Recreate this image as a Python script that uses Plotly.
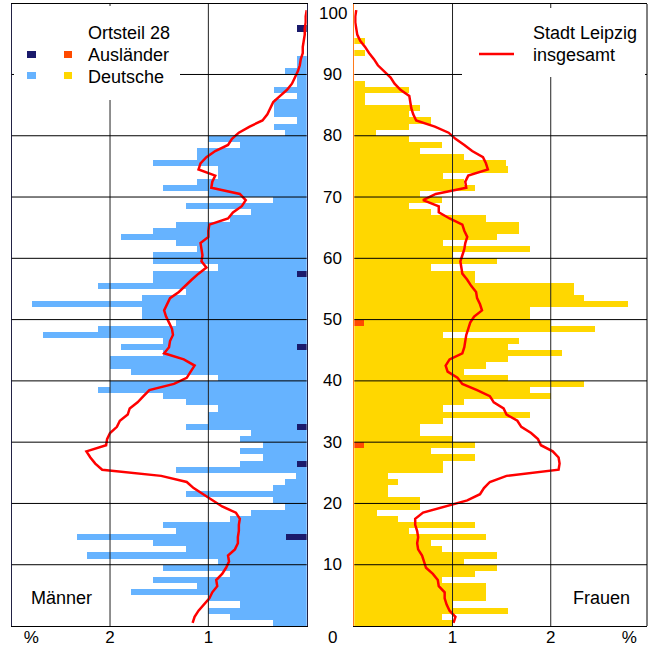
import plotly.graph_objects as go

# ---------------- data ----------------
ages = list(range(100))  # one-year age groups 0..99

# Männer, Deutsche (percent), Ortsteil 28
male_deutsche = [
    0.34, 0.78, 1.00, 0.68, 1.00, 1.79, 1.12, 1.56, 0.78, 1.46,   # 0-9
    0.90, 2.23, 1.23, 1.56, 2.13, 1.33, 1.46, 0.78, 0.57, 0.22,   # 10-19
    0.34, 1.23, 0.34, 0.22, 0.11, 1.33, 0.58, 0.44, 0.68, 0.44,   # 20-29
    0.68, 0.57, 1.13, 1.00, 1.00, 0.90, 1.23, 1.46, 2.12, 2.00,   # 30-39
    0.90, 1.79, 2.00, 2.00, 1.46, 1.79, 1.46, 2.68, 2.12, 1.33,   # 40-49
    1.67, 1.67, 2.79, 1.67, 1.23, 2.12, 1.56, 1.46, 0.90, 1.56,   # 50-59
    1.56, 1.12, 1.33, 1.89, 1.56, 1.33, 0.78, 0.57, 1.23, 0.34,   # 60-69
    1.00, 1.46, 1.12, 0.90, 0.90, 1.56, 1.12, 1.12, 0.68, 1.00,   # 70-79
    0.22, 0.33, 0.10, 0.33, 0.33, 0.33, 0.10, 0.33, 0.10, 0.10,   # 80-89
    0.22, 0.10, 0.10, 0.00, 0.00, 0.00, 0.00, 0.00, 0.00, 0.00,   # 90-99
]
# Männer, Ausländer
male_auslaender_ages = [14, 26, 32, 45, 57, 97]
male_auslaender_vals = [0.21, 0.10, 0.10, 0.10, 0.10, 0.10]

# Frauen, Deutsche
female_deutsche = [
    1.00, 0.89, 1.56, 1.00, 1.34, 1.34, 1.34, 0.89, 1.23, 1.45,   # 0-9
    1.12, 1.45, 0.89, 0.78, 1.34, 0.56, 1.23, 0.45, 0.23, 0.67,   # 10-19
    0.67, 0.34, 0.34, 0.45, 0.34, 0.90, 0.90, 1.23, 0.78, 1.13,   # 20-29
    1.00, 0.67, 0.67, 0.90, 1.79, 0.90, 1.12, 2.00, 1.79, 2.34,   # 30-39
    1.56, 1.12, 1.34, 1.56, 2.11, 1.56, 1.68, 0.90, 2.45, 1.90,   # 40-49
    1.79, 1.79, 2.79, 2.34, 2.24, 2.24, 1.23, 1.23, 0.78, 1.45,   # 50-59
    1.00, 1.79, 0.90, 1.45, 1.68, 1.68, 1.34, 0.78, 0.56, 0.89,   # 60-69
    0.67, 1.23, 1.12, 0.90, 1.56, 1.54, 1.12, 0.67, 0.89, 0.56,   # 70-79
    0.22, 0.56, 0.78, 0.56, 0.67, 0.11, 0.11, 0.56, 0.11, 0.00,   # 80-89
    0.00, 0.00, 0.00, 0.11, 0.00, 0.11, 0.00, 0.00, 0.00, 0.00,   # 90-99
]
# Frauen, Ausländer
female_auslaender_ages = [29, 49]
female_auslaender_vals = [0.10, 0.10]

# Stadt Leipzig insgesamt (ages 0..100)
line_ages = list(range(101))
male_leipzig = [
    1.16, 1.14, 1.10, 1.04, 0.99, 0.96, 0.91, 0.92, 0.86, 0.82,
    0.79, 0.80, 0.73, 0.70, 0.70, 0.69, 0.69, 0.68, 0.72, 0.86,
    0.96, 1.06, 1.15, 1.22, 1.48, 2.08, 2.15, 2.20, 2.24, 2.04,
    2.03, 2.00, 1.93, 1.90, 1.82, 1.80, 1.72, 1.66, 1.60, 1.35,
    1.22, 1.18, 1.14, 1.25, 1.45, 1.40, 1.39, 1.36, 1.37, 1.40,
    1.43, 1.45, 1.42, 1.39, 1.30, 1.24, 1.17, 1.10, 1.02, 1.07,
    1.06, 1.07, 1.08, 1.00, 1.00, 0.99, 0.80, 0.75, 0.66, 0.62,
    0.68, 0.97, 0.96, 0.93, 1.10, 1.08, 1.02, 0.93, 0.80, 0.76,
    0.69, 0.58, 0.45, 0.40, 0.37, 0.34, 0.27, 0.20, 0.15, 0.12,
    0.09, 0.07, 0.06, 0.04, 0.04, 0.03, 0.02, 0.02, 0.01, 0.01,
    0.00,
]
female_leipzig = [
    1.01, 1.03, 0.97, 0.94, 0.92, 0.92, 0.86, 0.85, 0.80, 0.73,
    0.71, 0.69, 0.65, 0.64, 0.65, 0.64, 0.62, 0.62, 0.70, 0.92,
    1.15, 1.28, 1.32, 1.38, 1.55, 2.08, 2.09, 2.08, 2.02, 1.90,
    1.87, 1.80, 1.70, 1.66, 1.55, 1.52, 1.42, 1.38, 1.25, 1.10,
    1.05, 0.95, 0.93, 0.97, 1.10, 1.12, 1.13, 1.14, 1.16, 1.18,
    1.22, 1.30, 1.28, 1.25, 1.24, 1.19, 1.15, 1.10, 1.09, 1.08,
    1.10, 1.12, 1.13, 1.15, 1.12, 1.10, 0.97, 0.86, 0.86, 0.70,
    0.83, 1.14, 1.13, 1.16, 1.36, 1.34, 1.31, 1.20, 1.12, 1.03,
    0.96, 0.82, 0.63, 0.60, 0.58, 0.57, 0.56, 0.47, 0.41, 0.37,
    0.30, 0.24, 0.20, 0.15, 0.11, 0.06, 0.03, 0.02, 0.01, 0.01,
    0.02,
]

age_ticks = [10, 20, 30, 40, 50, 60, 70, 80, 90, 100]
pct_tickvals = [1, 2, 2.8]
pct_ticktext = ["1", "2", "%"]

# ---------------- colours / styles ----------------
C_M_D = "#66B3FF"
C_M_A = "#1A1A6B"
C_F_D = "#FFD700"
C_F_A = "#FF4A00"
C_LINE = "#FF0000"
FONT = "Liberation Sans, Arial, sans-serif"

def expand(idx, vals):
    out = [0.0] * len(ages)
    for a, v in zip(idx, vals):
        out[a] = v
    return out

male_ausl = expand(male_auslaender_ages, male_auslaender_vals)
female_ausl = expand(female_auslaender_ages, female_auslaender_vals)
bar_y = [a + 0.5 for a in ages]
line_y = [a + 0.5 for a in line_ages]

fig = go.Figure()
# Left panel: Männer (Ausländer at base, Deutsche stacked outward)
fig.add_trace(go.Bar(x=male_ausl, y=bar_y, orientation="h", width=1,
                     marker=dict(color=C_M_A, line=dict(width=0)),
                     xaxis="x", yaxis="y", showlegend=False))
fig.add_trace(go.Bar(x=male_deutsche, y=bar_y, orientation="h", width=1,
                     marker=dict(color=C_M_D, line=dict(width=0)),
                     xaxis="x", yaxis="y", showlegend=False))
# Right panel: Frauen
fig.add_trace(go.Bar(x=female_ausl, y=bar_y, orientation="h", width=1,
                     marker=dict(color=C_F_A, line=dict(width=0)),
                     xaxis="x2", yaxis="y2", showlegend=False))
fig.add_trace(go.Bar(x=female_deutsche, y=bar_y, orientation="h", width=1,
                     marker=dict(color=C_F_D, line=dict(width=0)),
                     xaxis="x2", yaxis="y2", showlegend=False))
# Stadt Leipzig lines
fig.add_trace(go.Scatter(x=male_leipzig, y=line_y, mode="lines",
                         line=dict(color=C_LINE, width=2.5),
                         xaxis="x", yaxis="y", showlegend=False))
fig.add_trace(go.Scatter(x=female_leipzig, y=line_y, mode="lines",
                         line=dict(color=C_LINE, width=2.5),
                         xaxis="x2", yaxis="y2", showlegend=False))

W, H = 654, 650
MT, MB = 4, 24
PH = H - MT - MB

def px(x):
    return x / W

def py(y):
    return (H - MB - y) / PH

Y_RANGE = [0, 101.5]
axis_font = dict(family=FONT, size=17, color="#000")

fig.update_layout(
    width=W, height=H,
    margin=dict(l=0, r=0, t=MT, b=MB),
    paper_bgcolor="white", plot_bgcolor="white",
    barmode="stack", bargap=0,
    font=dict(family=FONT, size=17, color="#000"),
    xaxis=dict(domain=[px(11.7), px(306.7)], range=[3, 0], tickvals=pct_tickvals,
               ticktext=pct_ticktext, showgrid=False, zeroline=False, showline=True,
               linecolor="#000", linewidth=1, mirror=True, ticks="", tickfont=axis_font,
               ticklabelstandoff=-4),
    yaxis=dict(domain=[0, 1], range=Y_RANGE, showgrid=False, zeroline=False,
               showticklabels=False, showline=True, linecolor="#222244", linewidth=1,
               mirror=True, ticks=""),
    xaxis2=dict(domain=[px(354.3), px(647)], range=[0, 2.98], tickvals=pct_tickvals,
                ticktext=pct_ticktext, showgrid=False, zeroline=False, showline=True,
                linecolor="#000", linewidth=1, mirror=True, ticks="", tickfont=axis_font,
                anchor="y2", ticklabelstandoff=-4),
    yaxis2=dict(domain=[0, 1], range=Y_RANGE, showgrid=False, zeroline=False,
                showticklabels=False, showline=True, linecolor="#FF7A1A", linewidth=1,
                mirror=False, ticks="", anchor="x2"),
)

shapes = []
# gridlines drawn above the bars
for xa, ya in (("x", "y"), ("x2", "y2")):
    for g in (1, 2):
        shapes.append(dict(type="line", xref=xa, yref=ya + " domain", x0=g, x1=g, y0=0, y1=1,
                           line=dict(color="#222", width=1), layer="above"))
    for t in age_ticks[:-1]:
        shapes.append(dict(type="line", xref=xa + " domain", yref=ya, x0=0, x1=1, y0=t, y1=t,
                           line=dict(color="#000", width=1), layer="above"))
# right border of right panel
shapes.append(dict(type="line", xref="x2 domain", yref="y2 domain", x0=1, x1=1, y0=0, y1=1,
                   line=dict(color="#000", width=1), layer="above"))
# legend boxes (white backgrounds)
shapes.append(dict(type="rect", xref="paper", yref="paper", x0=px(14), x1=px(180),
                   y0=py(100), y1=py(6), fillcolor="white", line=dict(width=0), layer="above"))
shapes.append(dict(type="rect", xref="paper", yref="paper", x0=px(462), x1=px(645),
                   y0=py(77), y1=py(8), fillcolor="white", line=dict(width=0), layer="above"))
# legend swatches
for (x0, x1, y0, y1, c) in ((27, 36, 51, 58, C_M_A), (64, 72, 51, 58, C_F_A),
                            (27, 36, 72, 79, C_M_D), (64, 72, 72, 79, C_F_D)):
    shapes.append(dict(type="rect", xref="paper", yref="paper", x0=px(x0), x1=px(x1),
                       y0=py(y1), y1=py(y0), fillcolor=c, line=dict(width=0), layer="above"))
shapes.append(dict(type="line", xref="paper", yref="paper", x0=px(479), x1=px(514),
                   y0=py(54), y1=py(54), line=dict(color=C_LINE, width=2.5), layer="above"))
fig.update_layout(shapes=shapes)

ann = []
def text(x, y, s, xanchor="left", size=18):
    ann.append(dict(xref="paper", yref="paper", x=x, y=y, text=s, showarrow=False,
                    xanchor=xanchor, yanchor="middle", font=dict(family=FONT, size=size, color="#000")))

text(px(86), py(33), "Ortsteil 28")
text(px(86), py(55), "Ausländer")
text(px(86), py(77), "Deutsche")
text(px(531), py(33), "Stadt Leipzig")
text(px(531), py(55), "insgesamt")
text(px(29), py(598), "Männer")
text(px(571), py(598), "Frauen")
text(px(333), py(637), "0", xanchor="center", size=17)
for t in age_ticks:
    ann.append(dict(xref="paper", yref="y", x=px(333), y=t, text=str(t), showarrow=False,
                    xanchor="center", yanchor="middle", font=dict(family=FONT, size=17, color="#000")))
fig.update_layout(annotations=ann)

fig.write_html("out.html",
               config={"displayModeBar": False, "staticPlot": True},
               post_script="document.body.style.margin='0px';document.body.style.overflow='hidden';")
